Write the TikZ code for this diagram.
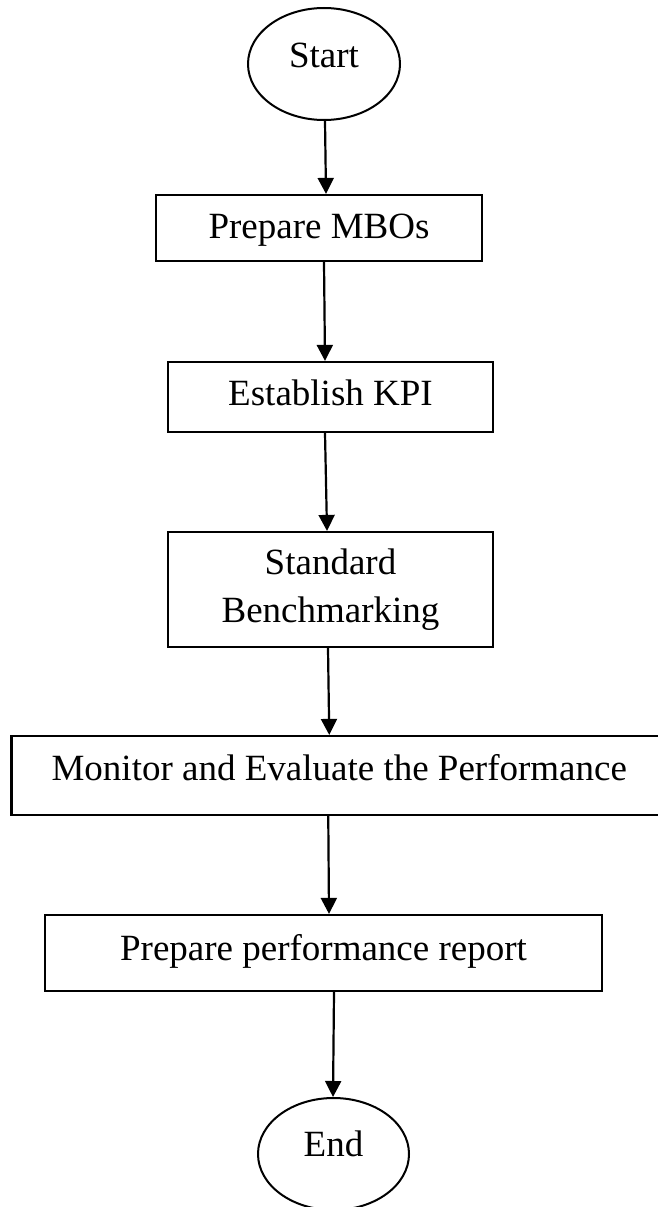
\documentclass[tikz,border=0pt]{standalone}
\usepackage{fontspec}
\setmainfont{Liberation Serif}
\usetikzlibrary{arrows.meta,shapes.geometric}
\begin{document}
\begin{tikzpicture}[x=1pt,y=-1pt,
  lbl/.style={font=\fontsize{37pt}{48pt}\selectfont},
  box/.style={lbl, draw=black, line width=2.2pt, rectangle, inner sep=0pt, align=center},
  oval/.style={lbl, draw=black, line width=2pt, ellipse, inner sep=0pt},
  arr/.style={line width=2.2pt, -{Triangle[length=16pt,width=16pt]}}]
\clip (0,0) rectangle (658,1207);
\node[oval, minimum width=152pt, minimum height=112pt, text height=25pt, text depth=18pt] (start) at (324,64) {Start};
\node[box, minimum width=326pt, minimum height=66pt, text height=25pt, text depth=5pt] (mbo) at (319,228) {Prepare MBOs};
\node[box, minimum width=325pt, minimum height=70pt, text height=25pt, text depth=9pt] (kpi) at (330.5,397) {Establish KPI};
\node[box, minimum width=325pt, minimum height=115pt] (bench) at (330.5,589.5) {Standard\\Benchmarking};
\node[box, minimum width=655.5pt, minimum height=79pt, text height=25pt, text depth=16pt] (mon) at (339.25,775.5) {Monitor and Evaluate the Performance};
\node[box, minimum width=557pt, minimum height=76pt, text height=25pt, text depth=11pt] (rep) at (323.5,953) {Prepare performance report};
\node[oval, minimum width=151pt, minimum height=112pt, text height=25pt, text depth=21pt] (end) at (333.5,1154) {End};
\draw[arr] ([xshift=1pt]start.south) -- ([xshift=7pt]mbo.north);
\draw[arr] ([xshift=5pt]mbo.south) -- ([xshift=-5.5pt]kpi.north);
\draw[arr] ([xshift=-5.5pt]kpi.south) -- ([xshift=-3.5pt]bench.north);
\draw[arr] ([xshift=-2.5pt]bench.south) -- ([xshift=-10pt]mon.north);
\draw[arr] ([xshift=-11pt]mon.south) -- ([xshift=5.5pt]rep.north);
\draw[arr] ([xshift=10.5pt]rep.south) -- ([xshift=-0.5pt]end.north);
\end{tikzpicture}
\end{document}
